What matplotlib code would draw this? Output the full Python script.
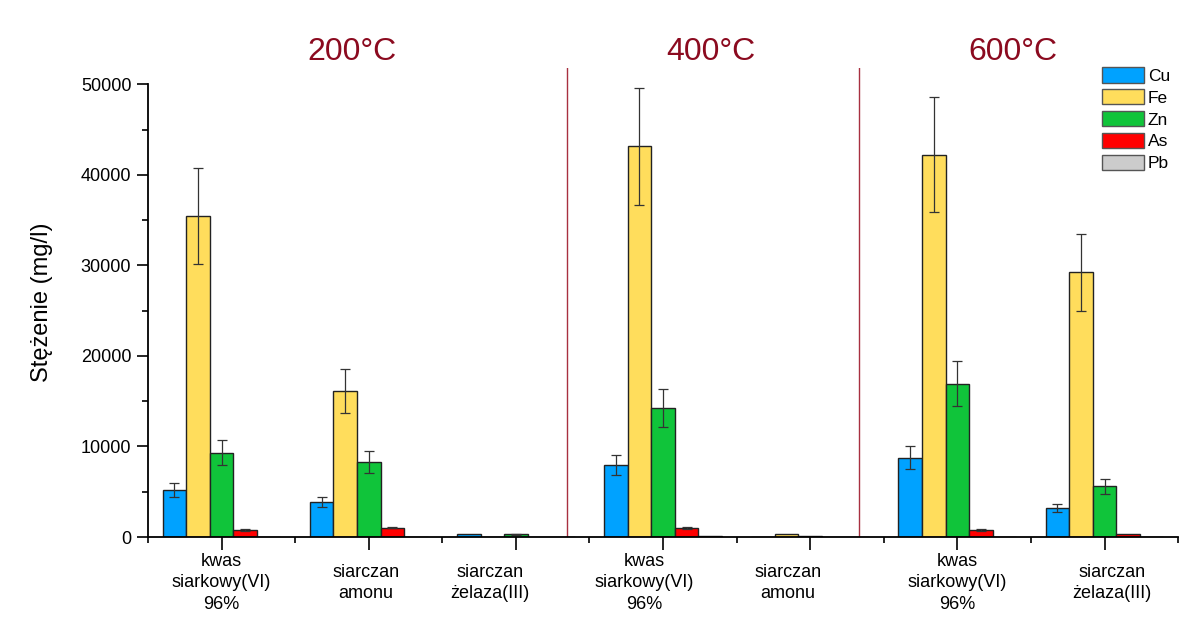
import matplotlib
matplotlib.use("Agg")
import matplotlib.pyplot as plt
import matplotlib.transforms as mtransforms
import numpy as np

plt.rcParams['font.family'] = ['Liberation Sans', 'DejaVu Sans']

# grupy: 200 kwas, 200 s.amonu, 200 s.zelaza, 400 kwas, 400 s.amonu, 600 kwas, 600 s.zelaza
group_labels = ["kwas\nsiarkowy(VI)\n96%", "siarczan\namonu", "siarczan\nżelaza(III)",
                "kwas\nsiarkowy(VI)\n96%", "siarczan\namonu",
                "kwas\nsiarkowy(VI)\n96%", "siarczan\nżelaza(III)"]
elements = ["Cu", "Fe", "Zn", "As", "Pb"]

cu = [5190, 3830, 330, 7950, 20, 8760, 3170]
cu_err = [770, 550, 0, 1150, 0, 1250, 450]
fe = [35440, 16150, 0, 43170, 300, 42250, 29220]
fe_err = [5300, 2400, 0, 6450, 0, 6300, 4300]
zn = [9310, 8250, 300, 14210, 80, 16930, 5630]
zn_err = [1400, 1200, 60, 2100, 0, 2500, 830]
as_ = [770, 1030, 0, 960, 0, 770, 300]
as_err = [100, 80, 0, 100, 0, 100, 0]
pb = [30, 30, 0, 140, 30, 30, 0]
pb_err = [0, 0, 0, 0, 0, 0, 0]

temps = ["200°C", "400°C", "600°C"]

colors = ['#00A2FF', '#FFDD5C', '#10C43A', '#FF0000', '#CCCCCC']

values = [cu, fe, zn, as_, pb]
errors = [cu_err, fe_err, zn_err, as_err, pb_err]

fig = plt.figure(figsize=(11.84, 6.30), dpi=100)
ax = fig.add_axes([0.125, 0.1476, 0.870, 0.7444])

centers = np.arange(1, 2 * len(group_labels), 2)
w = 0.32
for i in range(len(elements)):
    x = centers + (i - 2) * w
    v = np.array(values[i])
    e = np.array(errors[i])
    ax.bar(x, v, width=w, color=colors[i], edgecolor='#222222', linewidth=1.0,
           label=elements[i], zorder=2)
    m = e > 0
    ax.errorbar(x[m], v[m], yerr=e[m], fmt='none', ecolor='#333333',
                elinewidth=0.9, capsize=3.5, capthick=0.9, zorder=3)

# linie oddzielajace temperatury
for xs in [5.7, 9.67]:
    ax.axvline(xs, color='#A83040', linewidth=1.0, zorder=1)

ax.set_xlim(0, 14)
ax.set_ylim(0, 51800)
ax.spines['top'].set_visible(False)
ax.spines['right'].set_visible(False)
ax.spines['left'].set_bounds(0, 50000)
ax.spines['left'].set_linewidth(1.3)
ax.spines['bottom'].set_linewidth(1.3)

ax.set_yticks(np.arange(0, 50001, 10000))
ax.set_yticks(np.arange(5000, 50000, 10000), minor=True)
ax.tick_params(axis='y', which='major', length=8, width=1.2, labelsize=13, pad=4)
ax.tick_params(axis='y', which='minor', length=4, width=1.2)

ax.set_xticks(centers)
ax.set_xticks(np.arange(0, 15, 2), minor=True)
ax.set_xticklabels([])
ax.tick_params(axis='x', which='major', length=9, width=1.2)
ax.tick_params(axis='x', which='minor', length=4, width=1.2)

label_x = [1.0, 2.96, 4.65, 6.74, 8.70, 11.0, 13.1]
trans = mtransforms.blended_transform_factory(ax.transData, ax.transAxes)
for lx, lab in zip(label_x, group_labels):
    ax.text(lx, -0.098, lab, transform=trans, ha='center', va='center',
            fontsize=13, linespacing=1.35)

ax.set_ylabel("Stężenie (mg/l)", fontsize=17)
ax.yaxis.set_label_coords(-0.092, 0.5)

for tx, t in zip([0.297, 0.6005, 0.8556], temps):
    fig.text(tx, 0.918, t, ha='center', va='center', fontsize=23, color='#8B0A1F')

ax.legend(loc='upper left', bbox_to_anchor=(0.9307, 0.8937),
          bbox_transform=fig.transFigure, frameon=False, fontsize=12.5,
          borderpad=0, handlelength=2.4, handleheight=1.0, labelspacing=0.3,
          handletextpad=0.25, borderaxespad=0)
leg = ax.get_legend()
for p in leg.get_patches():
    p.set_edgecolor('#555555')

fig.savefig("out.png", dpi=100)
